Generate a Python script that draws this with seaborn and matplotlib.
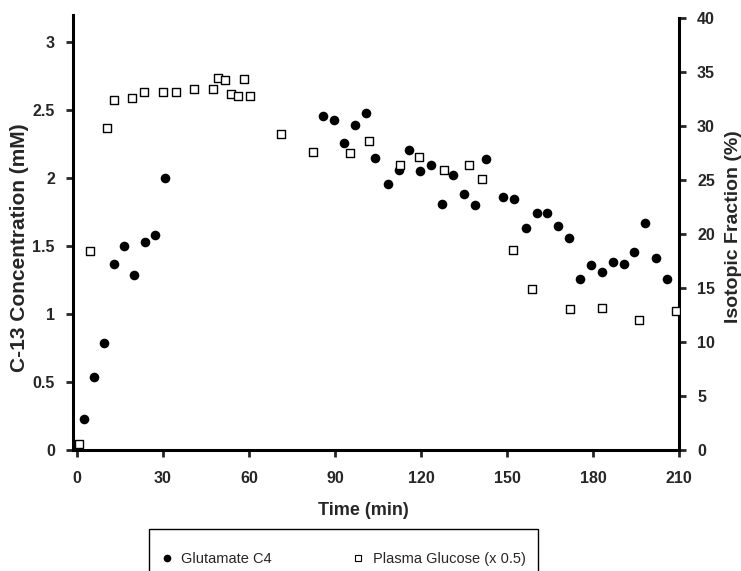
import numpy as np
import pandas as pd
import matplotlib.pyplot as plt
import seaborn as sns
from matplotlib.lines import Line2D
from matplotlib.patches import Rectangle
from matplotlib.ticker import FuncFormatter

# Glutamate C4 concentration (mM), left axis
glu_time = [2.3, 6.0, 9.4, 12.9, 16.4, 19.9, 23.6, 27.2, 30.6,
            85.7, 89.5, 93.2, 97.0, 100.8, 103.8, 108.5, 112.2, 115.9, 119.8,
            123.5, 127.3, 131.1, 135.0, 138.8, 142.6, 148.7, 152.5, 156.5, 160.3,
            164.0, 167.9, 171.6, 175.4, 179.3, 183.1, 187.0, 190.8, 194.3, 198.0,
            202.0, 205.8]
glu_conc = [0.23, 0.54, 0.79, 1.37, 1.50, 1.29, 1.53, 1.58, 2.00,
            2.46, 2.43, 2.26, 2.39, 2.48, 2.15, 1.96, 2.06, 2.21, 2.05,
            2.10, 1.81, 2.02, 1.88, 1.80, 2.14, 1.86, 1.85, 1.63, 1.74,
            1.74, 1.65, 1.56, 1.26, 1.36, 1.31, 1.38, 1.37, 1.46, 1.67,
            1.41, 1.26]

# Plasma glucose isotopic fraction (%) x 0.5, right axis
gluc_time = [0.8, 4.5, 10.6, 12.8, 19.3, 23.4, 29.9, 34.4, 40.9, 47.3,
             49.3, 51.6, 53.7, 56.1, 58.2, 60.3, 71.3, 82.2, 95.3, 101.8,
             112.8, 119.3, 127.9, 136.6, 141.2, 152.1, 158.8, 172.0, 183.0,
             196.0, 209.0]
gluc_frac = [0.6, 18.4, 29.8, 32.4, 32.6, 33.2, 33.2, 33.2, 33.4, 33.4,
             34.5, 34.3, 33.0, 32.8, 34.4, 32.8, 29.3, 27.6, 27.5, 28.6,
             26.4, 27.1, 25.9, 26.4, 25.1, 18.5, 14.9, 13.1, 13.2,
             12.0, 12.9]

xticks = [0, 30, 60, 90, 120, 150, 180, 210]
left_ticks = [0, 0.5, 1, 1.5, 2, 2.5, 3]
right_ticks = [0, 5, 10, 15, 20, 25, 30, 35, 40]

glu = pd.DataFrame({'time': glu_time, 'conc': glu_conc})
gluc = pd.DataFrame({'time': gluc_time, 'frac': gluc_frac})

sns.set_style('white')
plt.rcParams['font.family'] = ['Liberation Sans', 'DejaVu Sans']

fig = plt.figure(figsize=(7.41, 5.71), dpi=100)
ax = fig.add_axes([73 / 741, 121 / 571, 606 / 741, 435 / 571])
ax2 = ax.twinx()

sns.scatterplot(data=glu, x='time', y='conc', ax=ax, marker='o', s=48,
                color='black', edgecolor='black', linewidth=0, zorder=3)
sns.scatterplot(data=gluc, x='time', y='frac', ax=ax2, marker='s', s=34,
                facecolor='white', edgecolor='black', linewidth=1.0, zorder=3)

ax.set_xlim(-1.4, 210)
ax.set_ylim(0, 3.2)
ax2.set_ylim(0, 40.3)

fmt = FuncFormatter(lambda v, p: '%g' % v)
ax.set_xticks(xticks)
ax.set_yticks(left_ticks)
ax2.set_yticks(right_ticks)
ax.yaxis.set_major_formatter(fmt)
ax2.yaxis.set_major_formatter(fmt)

for a in (ax, ax2):
    a.spines['top'].set_visible(False)
    for s in a.spines.values():
        s.set_linewidth(2.2)
        s.set_color('black')
ax.spines['right'].set_visible(False)
ax2.spines['left'].set_visible(False)
ax2.spines['bottom'].set_visible(False)
ax2.spines['right'].set_bounds(0, 40)

ax.tick_params(axis='x', direction='out', length=5, width=2, pad=10,
               labelsize=11.5, bottom=True)
ax.tick_params(axis='y', direction='out', length=5, width=2, pad=8,
               labelsize=11.5, left=True)
ax2.tick_params(axis='y', direction='out', length=5, width=2, pad=8,
                labelsize=11.5, right=True)
for lab in ax.get_xticklabels() + ax.get_yticklabels() + ax2.get_yticklabels():
    lab.set_fontweight('bold')

ax.set_xlabel('Time (min)', fontsize=13, fontweight='bold')
ax.set_ylabel('C-13 Concentration (mM)', fontsize=15, fontweight='bold')
ax2.set_ylabel('Isotopic Fraction (%)', fontsize=14, fontweight='bold')
ax.xaxis.set_label_coords((363 - 73) / 606, (450 - 502) / 435)
ax.yaxis.set_label_coords((29 - 73) / 606, (450 - 248) / 435)
ax2.yaxis.set_label_coords((725 - 73) / 606, (450 - 227) / 435)

# legend box, cut by the bottom edge of the figure
fig.add_artist(Rectangle((149 / 741, -0.1), (538 - 149) / 741, 0.1 + 42 / 571,
                         transform=fig.transFigure, fill=False,
                         edgecolor='black', linewidth=1))
handles = [Line2D([], [], marker='o', linestyle='none', color='black',
                  markersize=4.5),
           Line2D([], [], marker='s', linestyle='none', markerfacecolor='white',
                  markeredgecolor='black', markeredgewidth=0.8, markersize=4.2)]
fig.legend(handles, ['Glutamate C4', 'Plasma Glucose (x 0.5)'],
           loc='center left', bbox_to_anchor=(162.5 / 741, 12 / 571),
           ncol=2, frameon=False, fontsize=10.5, borderpad=0, borderaxespad=0,
           handlelength=0.6, handletextpad=0.7, columnspacing=5.6)

fig.savefig('out.png', dpi=100)
